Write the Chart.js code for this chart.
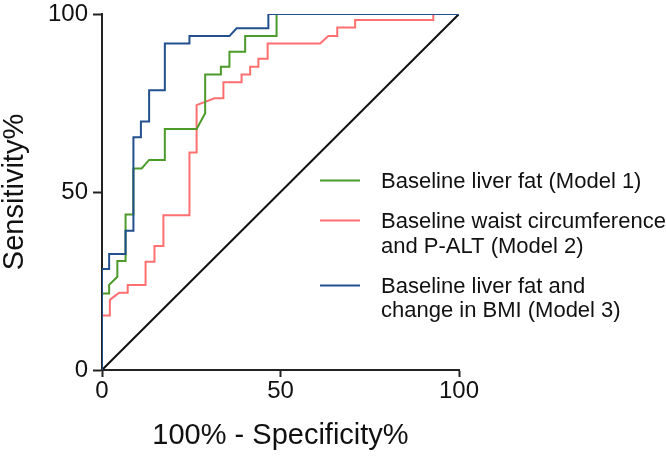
<!DOCTYPE html>
<html>
<head>
<meta charset="utf-8">
<script src="https://cdn.jsdelivr.net/npm/chart.js@4.4.1/dist/chart.umd.min.js"></script>
<style>
    html, body { margin: 0; padding: 0; background: #fff; }
    #wrap { width: 666px; height: 464px; }
</style>
</head>
<body>
<div id="wrap"><canvas id="rocChart" width="666" height="464"></canvas></div>
<script>
// ROC curves, values (100% - specificity, sensitivity)

const model1X = [0, 0, 2.0, 2.0, 4.3, 4.3, 6.6, 6.6, 8.8, 8.8, 11.1, 13.2, 17.6, 17.6, 26.5, 28.9, 28.9, 33.3, 33.3, 35.7, 35.7, 40.1, 40.1, 48.9, 48.9, 100];
const model1Y = [0, 21.5, 21.5, 23.9, 26.2, 30.6, 30.6, 43.7, 43.7, 56.6, 56.6, 59.0, 59.0, 67.7, 67.7, 72.1, 83.0, 83.0, 85.2, 85.2, 89.4, 89.4, 93.8, 93.8, 100, 100];

const model2X = [0, 0, 2.2, 2.2, 4.8, 7.2, 7.2, 12.2, 12.2, 14.7, 14.7, 17.2, 17.2, 24.5, 24.5, 26.5, 26.5, 31.5, 34.0, 34.0, 39.1, 39.1, 41.5, 41.5, 43.8, 43.8, 46.4, 46.4, 61.1, 63.4, 65.9, 65.9, 70.9, 70.9, 92.8, 92.8, 100];
const model2Y = [0, 15.3, 15.3, 19.7, 21.7, 21.7, 23.9, 23.9, 30.4, 30.4, 34.8, 34.8, 43.5, 43.5, 61.1, 61.1, 74.4, 76.3, 76.3, 80.8, 80.8, 83.0, 83.0, 85.2, 85.2, 87.4, 87.4, 91.7, 91.7, 93.8, 93.8, 96.2, 96.2, 98.3, 98.3, 100, 100];

const model3X = [0, 0, 2.0, 2.0, 6.6, 6.6, 8.8, 8.8, 10.9, 10.9, 13.2, 13.2, 17.6, 17.6, 24.5, 24.5, 35.7, 37.7, 46.6, 46.6, 100];
const model3Y = [0, 28.4, 28.4, 32.6, 32.6, 39.1, 39.1, 65.4, 65.4, 69.8, 69.8, 78.6, 78.6, 91.7, 91.7, 93.8, 93.8, 96.0, 96.0, 100, 100];

const chanceX = [0, 100];
const chanceY = [0, 100];

const legendLabels = [
    ['Baseline liver fat (Model 1)'],
    ['Baseline waist circumference', 'and P-ALT (Model 2)'],
    ['Baseline liver fat and', 'change in BMI (Model 3)']
];
const colors = ['#4c9a2a', '#ff6f6f', '#22508f'];

const FONT = "'Liberation Sans', Arial, sans-serif";

function toPoints(xs, ys) {
    return xs.map((x, i) => ({ x: x, y: ys[i] }));
}

// legend drawn inside the plot, to the right of the diagonal
const rocLegend = {
    id: 'rocLegend',
    afterDraw(chart) {
        const ctx = chart.ctx;
        const baselines = [[188], [228, 253], [293, 317]];
        ctx.save();
        ctx.font = '22px ' + FONT;
        ctx.textAlign = 'left';
        ctx.textBaseline = 'alphabetic';
        legendLabels.forEach((lines, i) => {
            const y0 = baselines[i][0];
            ctx.strokeStyle = colors[i];
            ctx.lineWidth = 2;
            ctx.beginPath();
            ctx.moveTo(320, y0 - 7.5);
            ctx.lineTo(360, y0 - 7.5);
            ctx.stroke();
            ctx.fillStyle = '#111';
            lines.forEach((t, j) => ctx.fillText(t, 381, baselines[i][j]));
        });
        ctx.restore();
    }
};

const ctx = document.getElementById('rocChart').getContext('2d');

new Chart(ctx, {
    type: 'line',
    data: {
        datasets: [
            {
                label: 'Model 3',
                data: toPoints(model3X, model3Y),
                borderColor: colors[2],
                borderWidth: 2,
                order: 0
            },
            {
                label: 'Model 1',
                data: toPoints(model1X, model1Y),
                borderColor: colors[0],
                borderWidth: 2,
                order: 1
            },
            {
                label: 'Model 2',
                data: toPoints(model2X, model2Y),
                borderColor: colors[1],
                borderWidth: 2,
                order: 2
            },
            {
                label: 'Chance',
                data: toPoints(chanceX, chanceY),
                borderColor: '#111',
                borderWidth: 2,
                order: 3
            }
        ]
    },
    options: {
        responsive: false,
        animation: false,
        events: [],
        elements: {
            point: { radius: 0 },
            line: { tension: 0, fill: false }
        },
        layout: {
            padding: { left: 0, top: 14, right: 207, bottom: 0 }
        },
        plugins: {
            legend: { display: false },
            tooltip: { enabled: false }
        },
        scales: {
            x: {
                type: 'linear',
                min: 0,
                max: 100,
                afterFit: axis => {
                    axis.height = 94;
                    axis.paddingLeft = 0;
                    axis.paddingRight = 0;
                },
                border: { color: '#222', width: 2 },
                grid: {
                    drawOnChartArea: false,
                    tickLength: 7,
                    tickWidth: 2,
                    tickColor: '#222'
                },
                ticks: {
                    stepSize: 50,
                    padding: 0,
                    maxRotation: 0,
                    color: '#111',
                    font: { family: FONT, size: 24 }
                },
                title: {
                    display: true,
                    text: '100% - Specificity%',
                    color: '#111',
                    font: { family: FONT, size: 29, lineHeight: 1 },
                    padding: { top: 0, bottom: 13.5 }
                }
            },
            y: {
                type: 'linear',
                min: 0,
                max: 100,
                afterFit: axis => {
                    axis.width = 102;
                    axis.paddingTop = 0;
                    axis.paddingBottom = 0;
                },
                border: { color: '#222', width: 2 },
                grid: {
                    drawOnChartArea: false,
                    tickLength: 9,
                    tickWidth: 2,
                    tickColor: '#222'
                },
                ticks: {
                    stepSize: 50,
                    padding: 5,
                    color: '#111',
                    font: { family: FONT, size: 24 }
                },
                title: {
                    display: true,
                    text: 'Sensitivity%',
                    color: '#111',
                    font: { family: FONT, size: 29, lineHeight: 1 },
                    padding: { top: 0, bottom: 0 }
                }
            }
        }
    },
    plugins: [rocLegend]
});
</script>
</body>
</html>
